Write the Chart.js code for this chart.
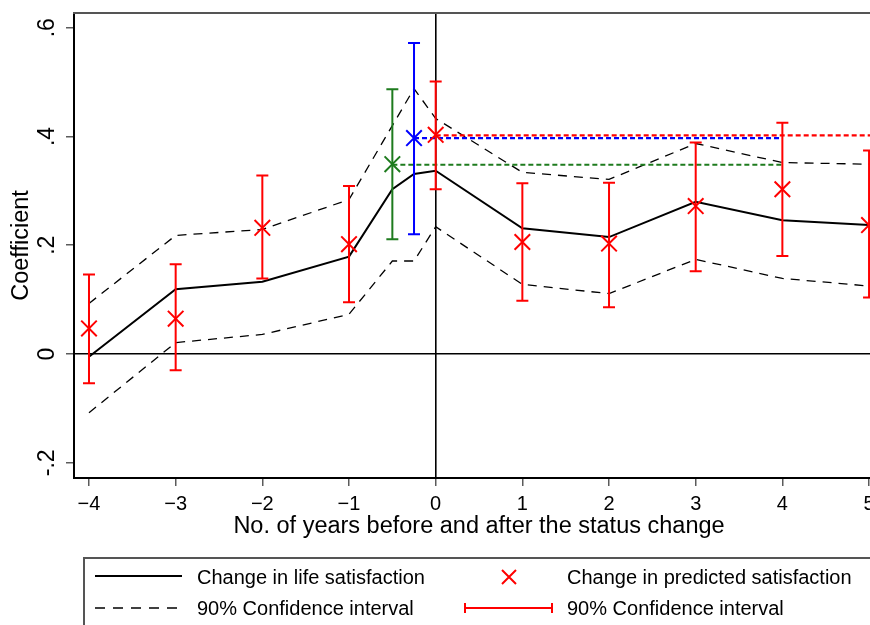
<!DOCTYPE html>
<html>
<head>
<meta charset="utf-8">
<script src="https://cdn.jsdelivr.net/npm/chart.js@4.4.1/dist/chart.umd.min.js"></script>
<style>
  html, body { margin: 0; padding: 0; background: #fff; overflow: hidden; }
  #wrap { position: absolute; left: 0; top: 0; width: 870px; height: 625px; }
</style>
</head>
<body>
<div id="wrap"><canvas id="chart" width="870" height="625"></canvas></div>
<script>
const FONT = "'Liberation Sans', Arial, Helvetica, sans-serif";

// change in life satisfaction and its 90% band
const lifeYears = [-4, -3, -2, -1, -0.5, -0.25, 0, 1, 2, 3, 4, 5];
const lifeCoef  = [-0.005, 0.119, 0.133, 0.179, 0.303, 0.331, 0.337, 0.231, 0.215, 0.280, 0.246, 0.237];
const lifeUpper = [0.093, 0.218, 0.229, 0.284, 0.420, 0.488, 0.433, 0.334, 0.321, 0.387, 0.352, 0.349];
const lifeLower = [-0.108, 0.021, 0.036, 0.073, 0.171, 0.171, 0.234, 0.128, 0.111, 0.174, 0.139, 0.125];

// change in predicted satisfaction with 90% bars
const predYears = [-4, -3, -2, -1, 0, 1, 2, 3, 4, 5];
const predCoef  = [0.047, 0.065, 0.232, 0.202, 0.403, 0.206, 0.203, 0.272, 0.303, 0.237];
const predHigh  = [0.146, 0.165, 0.328, 0.309, 0.501, 0.314, 0.315, 0.389, 0.425, 0.374];
const predLow   = [-0.054, -0.030, 0.139, 0.095, 0.303, 0.098, 0.086, 0.152, 0.180, 0.104];

// the two extra estimates (green, blue)
const extraYears = [-0.5, -0.25];
const extraCoef  = [0.349, 0.397];
const extraHigh  = [0.487, 0.572];
const extraLow   = [0.211, 0.220];

// horizontal reference levels (green, blue, red)
const refStart = [-0.5, -0.25, 0];
const refEnd   = [4, 4, 5.1];
const refLevel = [0.348, 0.397, 0.402];

const xTicks = [-4, -3, -2, -1, 0, 1, 2, 3, 4, 5];
const yTicks = [-0.2, 0, 0.2, 0.4, 0.6];
const yTickLabels = ['-.2', '0', '.2', '.4', '.6'];

const xMin = -4.173, xMax = 5.011;
const yMin = -0.228, yMax = 0.627;

const RED = '#ff0000';
const GREEN = '#1e7b1e';
const BLUE = '#0000ff';
const extraColors = [GREEN, BLUE];
const refColors = [GREEN, BLUE, RED];

const xy = (xs, ys) => xs.map((x, i) => ({ x, y: ys[i] }));

const datasets = [
  { data: xy(lifeYears, lifeCoef), showLine: true, borderColor: '#000', borderWidth: 2, pointRadius: 0, order: 3 },
  { data: xy(lifeYears, lifeUpper), showLine: true, borderColor: '#000', borderWidth: 1.3, borderDash: [9, 7], pointRadius: 0, order: 4 },
  { data: xy(lifeYears, lifeLower), showLine: true, borderColor: '#000', borderWidth: 1.3, borderDash: [9, 7], pointRadius: 0, order: 4 },
];
refLevel.forEach((lvl, i) => {
  datasets.push({
    data: [{ x: refStart[i], y: lvl }, { x: refEnd[i], y: lvl }],
    showLine: true, borderColor: refColors[i], borderWidth: 2.2, borderDash: [5, 3], pointRadius: 0, order: 2,
  });
});
datasets.push({
  data: xy(predYears, predCoef), pointStyle: 'crossRot', pointRadius: 11,
  borderColor: RED, pointBorderWidth: 2, order: 1,
});
extraYears.forEach((x, i) => {
  datasets.push({
    data: [{ x, y: extraCoef[i] }], pointStyle: 'crossRot', pointRadius: 11,
    borderColor: extraColors[i], pointBorderWidth: 2, order: 1,
  });
});

const barGroups = [
  { xs: predYears, lo: predLow, hi: predHigh, color: () => RED },
  { xs: extraYears, lo: extraLow, hi: extraHigh, color: i => extraColors[i] },
];

const decorPlugin = {
  id: 'decor',
  afterDatasetsDraw(chart) {
    const { ctx, chartArea, scales: { x, y } } = chart;
    ctx.save();
    ctx.beginPath();
    ctx.rect(chartArea.left, chartArea.top, chartArea.right - chartArea.left, chartArea.bottom - chartArea.top);
    ctx.clip();
    ctx.lineWidth = 2;
    for (const g of barGroups) {
      g.xs.forEach((xv, i) => {
        const px = x.getPixelForValue(xv);
        const top = y.getPixelForValue(g.hi[i]);
        const bot = y.getPixelForValue(g.lo[i]);
        ctx.strokeStyle = g.color(i);
        ctx.beginPath();
        ctx.moveTo(px, top); ctx.lineTo(px, bot);
        ctx.moveTo(px - 6, top); ctx.lineTo(px + 6, top);
        ctx.moveTo(px - 6, bot); ctx.lineTo(px + 6, bot);
        ctx.stroke();
      });
    }
    ctx.restore();
  },
  afterDraw(chart) {
    const { ctx, chartArea, scales: { y } } = chart;
    ctx.save();
    // top frame
    ctx.strokeStyle = '#555';
    ctx.lineWidth = 2;
    ctx.beginPath();
    ctx.moveTo(chartArea.left - 1, chartArea.top);
    ctx.lineTo(chart.width, chartArea.top);
    ctx.stroke();

    ctx.fillStyle = '#000';
    // y tick labels, rotated
    ctx.font = '23px ' + FONT;
    ctx.textAlign = 'center';
    ctx.textBaseline = 'alphabetic';
    yTicks.forEach((v, i) => {
      ctx.save();
      ctx.translate(53.5, y.getPixelForValue(v));
      ctx.rotate(-Math.PI / 2);
      ctx.fillText(yTickLabels[i], 0, 0);
      ctx.restore();
    });
    // axis titles
    ctx.save();
    ctx.translate(28, (chartArea.top + chartArea.bottom) / 2);
    ctx.rotate(-Math.PI / 2);
    ctx.font = '23.5px ' + FONT;
    ctx.fillText('Coefficient', 0, 0);
    ctx.restore();
    ctx.font = '23.5px ' + FONT;
    ctx.fillText('No. of years before and after the status change', 479, 533);

    // legend
    ctx.strokeStyle = '#555';
    ctx.lineWidth = 2;
    ctx.strokeRect(84, 558, 900, 200);
    ctx.strokeStyle = '#000';
    ctx.beginPath();
    ctx.moveTo(95, 576); ctx.lineTo(182, 576);
    ctx.stroke();
    ctx.lineWidth = 1.3;
    ctx.setLineDash([10, 8]);
    ctx.beginPath();
    ctx.moveTo(95, 608); ctx.lineTo(185, 608);
    ctx.stroke();
    ctx.setLineDash([]);
    ctx.strokeStyle = RED;
    ctx.lineWidth = 2;
    ctx.beginPath();
    ctx.moveTo(509 - 7, 577 - 7); ctx.lineTo(509 + 7, 577 + 7);
    ctx.moveTo(509 - 7, 577 + 7); ctx.lineTo(509 + 7, 577 - 7);
    ctx.moveTo(465, 608); ctx.lineTo(552, 608);
    ctx.moveTo(465, 603); ctx.lineTo(465, 613);
    ctx.moveTo(552, 603); ctx.lineTo(552, 613);
    ctx.stroke();
    ctx.font = '20px ' + FONT;
    ctx.textAlign = 'left';
    ctx.fillText('Change in life satisfaction', 197, 584);
    ctx.fillText('90% Confidence interval', 197, 615);
    ctx.fillText('Change in predicted satisfaction', 567, 584);
    ctx.fillText('90% Confidence interval', 567, 615);
    ctx.restore();
  },
};

new Chart(document.getElementById('chart'), {
  type: 'scatter',
  data: { datasets },
  plugins: [decorPlugin],
  options: {
    responsive: false,
    animation: false,
    layout: { autoPadding: false, padding: { top: 13, right: 0, left: 0, bottom: 0 } },
    plugins: { legend: { display: false }, tooltip: { enabled: false } },
    scales: {
      x: {
        type: 'linear',
        min: xMin,
        max: xMax,
        afterBuildTicks: s => { s.ticks = xTicks.map(v => ({ value: v })); },
        afterFit: s => { s.height = 147; s.paddingLeft = 0; s.paddingRight = 0; },
        border: { display: true, color: '#000', width: 2 },
        grid: {
          color: c => (c.tick && c.tick.value === 0 ? '#000' : 'rgba(0,0,0,0)'),
          lineWidth: 1.6,
          tickColor: '#333',
          tickWidth: 1.2,
          tickLength: 8,
        },
        ticks: {
          font: { family: FONT, size: 20 },
          color: '#000',
          padding: 6,
          maxRotation: 0,
          callback: v => (v < 0 ? '\u2212' + Math.abs(v) : String(v)),
        },
      },
      y: {
        type: 'linear',
        min: yMin,
        max: yMax,
        afterBuildTicks: s => { s.ticks = yTicks.map(v => ({ value: v })); },
        afterFit: s => { s.width = 74; s.paddingTop = 0; s.paddingBottom = 0; },
        border: { display: true, color: '#000', width: 2 },
        grid: {
          color: c => (c.tick && Math.abs(c.tick.value) < 1e-9 ? '#000' : 'rgba(0,0,0,0)'),
          lineWidth: 1.6,
          tickColor: '#333',
          tickWidth: 1.2,
          tickLength: 8,
        },
        ticks: { display: false },
      },
    },
  },
});
</script>
</body>
</html>
